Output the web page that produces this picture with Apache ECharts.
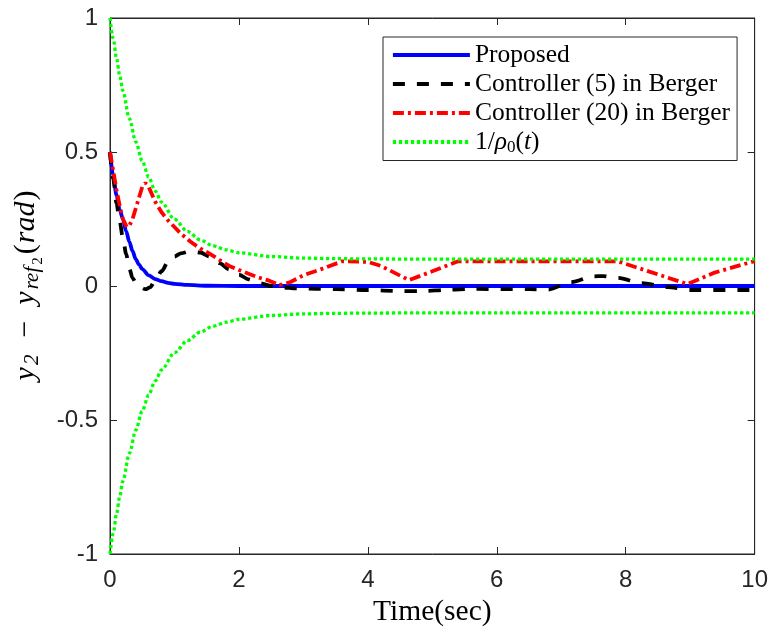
<!DOCTYPE html>
<html>
<head>
<meta charset="utf-8">
<title>Tracking error y2 - yref2</title>
<script src="https://cdn.jsdelivr.net/npm/echarts@6/dist/echarts.min.js"></script>
<style>
  html, body { margin: 0; padding: 0; background: #fff; }
  #chart { width: 771px; height: 632px; }
</style>
</head>
<body>
<div id="chart"></div>
<script>
// Time samples (sec) and tracking error values for each controller
const timeProposed = [0, 0.05, 0.1, 0.15, 0.2, 0.25, 0.3, 0.35, 0.4, 0.45, 0.5, 0.6, 0.7, 0.8, 0.9, 1.0, 1.2, 1.5, 2, 10];
const errProposed  = [0.5, 0.41, 0.34, 0.285, 0.25, 0.205, 0.165, 0.13, 0.1, 0.08, 0.063, 0.04, 0.026, 0.018, 0.012, 0.008, 0.004, 0.001, 0, 0];

const timeBerger5 = [0, 0.05, 0.1, 0.15, 0.2, 0.25, 0.3, 0.35, 0.4, 0.45, 0.55, 0.62, 0.7, 0.8, 0.9, 1.0, 1.1, 1.25, 1.4, 1.55, 1.7, 1.85, 2.0, 2.15, 2.3, 2.5, 2.65, 2.9, 3.5, 4.0, 4.5, 4.85, 5.25, 5.6, 6.5, 6.8, 7.15, 7.5, 7.65, 7.88, 8.24, 8.65, 9.0, 10];
const errBerger5  = [0.5, 0.4, 0.31, 0.24, 0.18, 0.12, 0.065, 0.03, 0.012, -0.003, -0.012, -0.005, 0.02, 0.055, 0.09, 0.11, 0.122, 0.13, 0.125, 0.11, 0.085, 0.062, 0.042, 0.025, 0.012, 0.0, -0.005, -0.009, -0.012, -0.015, -0.019, -0.019, -0.014, -0.011, -0.012, -0.013, 0.014, 0.036, 0.037, 0.03, 0.011, -0.004, -0.015, -0.015];

const timeBerger20 = [0, 0.05, 0.1, 0.15, 0.2, 0.26, 0.3, 0.35, 0.4, 0.45, 0.5, 0.55, 0.6, 0.7, 0.8, 0.9, 1.0, 1.1, 1.25, 1.4, 1.55, 1.7, 1.85, 2.0, 2.16, 2.3, 2.47, 2.63, 2.8, 3.0, 3.3, 3.6, 4.0, 4.2, 4.64, 5.0, 5.4, 6, 7, 7.88, 8.96, 9.38, 10];
const errBerger20  = [0.5, 0.43, 0.36, 0.3, 0.25, 0.22, 0.225, 0.25, 0.29, 0.33, 0.37, 0.385, 0.37, 0.315, 0.275, 0.245, 0.22, 0.195, 0.165, 0.14, 0.12, 0.097, 0.075, 0.06, 0.045, 0.032, 0.02, 0.003, 0.015, 0.04, 0.065, 0.092, 0.09, 0.075, 0.022, 0.055, 0.092, 0.092, 0.092, 0.092, 0.007, 0.05, 0.093];

const timeBound  = [0, 0.05, 0.1, 0.15, 0.2, 0.3, 0.4, 0.5, 0.6, 0.7, 0.8, 1.0, 1.2, 1.4, 1.6, 1.8, 2.0, 2.5, 3, 3.5, 4, 5, 6, 7, 8, 9, 10];
const boundUpper = [1.0, 0.923, 0.852, 0.787, 0.728, 0.625, 0.538, 0.466, 0.406, 0.355, 0.313, 0.249, 0.204, 0.172, 0.150, 0.135, 0.124, 0.110, 0.104, 0.102, 0.101, 0.1, 0.1, 0.1, 0.1, 0.1, 0.1];
const boundLower = [-1.0, -0.923, -0.852, -0.787, -0.728, -0.625, -0.538, -0.466, -0.406, -0.355, -0.313, -0.249, -0.204, -0.172, -0.150, -0.135, -0.124, -0.110, -0.104, -0.102, -0.101, -0.1, -0.1, -0.1, -0.1, -0.1, -0.1];

const seriesNames = ['Proposed', 'Controller (5) in Berger', 'Controller (20) in Berger', '1/ρ0(t)'];
const xTicks = { min: 0, max: 10, interval: 2 };
const yTicks = { min: -1, max: 1, interval: 0.5 };

function pairs(ts, vs) { return ts.map((t, i) => [t, vs[i]]); }

const serif = 'Liberation Serif';
const sans = 'Liberation Sans';
const axisColor = '#262626';

const chart = echarts.init(document.getElementById('chart'), null, { renderer: 'canvas' });

chart.setOption({
  animation: false,
  backgroundColor: '#fff',
  grid: { left: 110, right: 13, top: 18, bottom: 76.5, show: true, borderColor: axisColor, borderWidth: 1, backgroundColor: 'transparent' },
  legend: {
    data: seriesNames,
    orient: 'vertical',
    left: 383,
    top: 37,
    padding: [5, 7, 4, 8],
    itemWidth: 77,
    itemHeight: 14,
    itemGap: 3,
    backgroundColor: '#fff',
    borderColor: axisColor,
    borderWidth: 1,
    borderRadius: 0,
    itemStyle: { opacity: 0 },
    lineStyle: { width: 3.8 },
    textStyle: {
      fontFamily: serif,
      fontSize: 25.5,
      color: '#000',
      lineHeight: 26,
      rich: {
        n: { fontFamily: serif, fontSize: 25.5, color: '#000' },
        i: { fontFamily: serif, fontSize: 25.5, fontStyle: 'italic', color: '#000' },
        s: { fontFamily: serif, fontSize: 17, color: '#000', padding: [12, 0, 0, 0] }
      }
    },
    formatter: function (name) {
      if (name === '1/ρ0(t)') return '{n|1/}{i|ρ}{s|0}{n|(}{i|t}{n|)}';
      return name;
    }
  },
  xAxis: [
    {
      type: 'value', position: 'bottom', min: xTicks.min, max: xTicks.max, interval: xTicks.interval,
      name: 'Time(sec)', nameLocation: 'middle', nameGap: 43,
      nameTextStyle: { fontFamily: serif, fontSize: 29.5, color: '#000' },
      axisLine: { show: true, onZero: false, lineStyle: { color: axisColor, width: 1 } },
      axisTick: { show: true, inside: true, length: 7, lineStyle: { color: axisColor } },
      axisLabel: { margin: 14, fontFamily: sans, fontSize: 24, color: axisColor },
      splitLine: { show: false }
    },
    {
      type: 'value', position: 'top', min: xTicks.min, max: xTicks.max, interval: xTicks.interval,
      axisLine: { show: true, onZero: false, lineStyle: { color: axisColor, width: 1 } },
      axisTick: { show: true, inside: true, length: 7, lineStyle: { color: axisColor } },
      axisLabel: { show: false },
      splitLine: { show: false }
    }
  ],
  yAxis: [
    {
      type: 'value', position: 'left', min: yTicks.min, max: yTicks.max, interval: yTicks.interval,
      name: '{i|y}{s|2}{n|  −  }{i|y}{s|ref}{ss|2}{n|(}{i|rad}{n|)}',
      nameLocation: 'middle', nameRotate: 90, nameGap: 54,
      nameTextStyle: {
        fontFamily: serif, fontSize: 30, color: '#000',
        rich: {
          n: { fontFamily: serif, fontSize: 30, color: '#000' },
          i: { fontFamily: serif, fontSize: 30, fontStyle: 'italic', color: '#000', padding: [0, 1, 0, 1] },
          s: { fontFamily: serif, fontSize: 21, fontStyle: 'italic', color: '#000', padding: [14, 2, 0, 1] },
          ss: { fontFamily: serif, fontSize: 15, color: '#000', padding: [25, 3, 0, 0] }
        }
      },
      axisLine: { show: true, onZero: false, lineStyle: { color: axisColor, width: 1 } },
      axisTick: { show: true, inside: true, length: 7, lineStyle: { color: axisColor } },
      axisLabel: {
        margin: 12, fontFamily: sans, fontSize: 24, color: axisColor,
        formatter: function (v) { return String(v); }
      },
      splitLine: { show: false }
    },
    {
      type: 'value', position: 'right', min: yTicks.min, max: yTicks.max, interval: yTicks.interval,
      axisLine: { show: true, onZero: false, lineStyle: { color: axisColor, width: 1 } },
      axisTick: { show: true, inside: true, length: 7, lineStyle: { color: axisColor } },
      axisLabel: { show: false },
      splitLine: { show: false }
    }
  ],
  series: [
    {
      name: seriesNames[0], type: 'line', xAxisIndex: 0, yAxisIndex: 0,
      data: pairs(timeProposed, errProposed),
      symbol: 'none', smooth: 0.3, smoothMonotone: 'x',
      lineStyle: { color: '#0000ff', width: 3.8 },
      itemStyle: { color: '#0000ff' }
    },
    {
      name: seriesNames[1], type: 'line', xAxisIndex: 0, yAxisIndex: 0,
      data: pairs(timeBerger5, errBerger5),
      symbol: 'none', smooth: 0.3, smoothMonotone: 'x',
      lineStyle: { color: '#000000', width: 3.8, type: [12, 12], cap: 'butt' },
      itemStyle: { color: '#000000' }
    },
    {
      name: seriesNames[2], type: 'line', xAxisIndex: 0, yAxisIndex: 0,
      data: pairs(timeBerger20, errBerger20),
      symbol: 'none',
      lineStyle: { color: '#ff0000', width: 3.8, type: [11, 4, 3, 4], cap: 'butt' },
      itemStyle: { color: '#ff0000' }
    },
    {
      name: seriesNames[3], type: 'line', xAxisIndex: 0, yAxisIndex: 0,
      data: pairs(timeBound, boundUpper),
      symbol: 'none', smooth: 0.3, smoothMonotone: 'x',
      lineStyle: { color: '#00ff00', width: 3.3, type: [3.3, 2.7], cap: 'butt' },
      itemStyle: { color: '#00ff00' }
    },
    {
      name: seriesNames[3], type: 'line', xAxisIndex: 0, yAxisIndex: 0,
      data: pairs(timeBound, boundLower),
      symbol: 'none', smooth: 0.3, smoothMonotone: 'x',
      lineStyle: { color: '#00ff00', width: 3.3, type: [3.3, 2.7], cap: 'butt' },
      itemStyle: { color: '#00ff00' }
    }
  ]
});
</script>
</body>
</html>
